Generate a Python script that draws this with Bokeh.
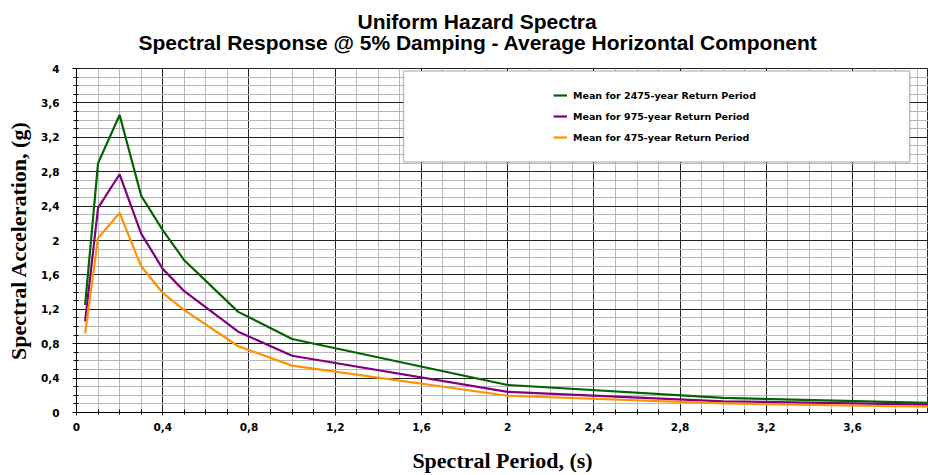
from bokeh.plotting import figure
from bokeh.models import (Range1d, FixedTicker, CustomJSTickFormatter, Legend, LegendItem,
                          BoxAnnotation, Title)
from bokeh.embed import file_html
from bokeh.resources import INLINE

# ---- data ----
periods = [0.04, 0.1, 0.2, 0.3, 0.4, 0.5, 0.75, 1.0, 2.0, 3.0, 4.0]
sa_2475 = [1.25, 2.90, 3.46, 2.52, 2.12, 1.77, 1.17, 0.855, 0.32, 0.17, 0.11]
sa_975 = [1.06, 2.38, 2.77, 2.08, 1.67, 1.41, 0.94, 0.66, 0.24, 0.13, 0.09]
sa_475 = [0.92, 2.03, 2.32, 1.70, 1.39, 1.19, 0.77, 0.545, 0.195, 0.105, 0.065]

series_names = ["Mean for 2475-year Return Period",
                "Mean for 975-year Return Period",
                "Mean for 475-year Return Period"]

title_lines = ["Uniform Hazard Spectra",
               "Spectral Response @ 5% Damping - Average Horizontal Component"]

x_ticks = [0, 0.4, 0.8, 1.2, 1.6, 2, 2.4, 2.8, 3.2, 3.6, 4]
x_tick_labels = ["0", "0,4", "0,8", "1,2", "1,6", "2", "2,4", "2,8", "3,2", "3,6", "4"]
y_ticks = [0, 0.4, 0.8, 1.2, 1.6, 2, 2.4, 2.8, 3.2, 3.6, 4]
y_tick_labels = ["0", "0,4", "0,8", "1,2", "1,6", "2", "2,4", "2,8", "3,2", "3,6", "4"]
minor_ticks = [i / 10 for i in range(41)]

colors = ["#006400", "#800080", "#ff9200"]

p = figure(width=928, height=475, output_backend="svg", toolbar_location=None,
           x_range=Range1d(0, 3.952), y_range=Range1d(0, 4),
           min_border_left=76, min_border_right=0, min_border_top=68, min_border_bottom=63,
           background_fill_color="white", border_fill_color="white")
p.outline_line_color = "#222222"

# two-line chart title (second line added first: it sits next to the plot)
t2 = Title(text=title_lines[1], text_font="Liberation Sans", text_font_size="21px",
           text_font_style="bold", text_color="black", align="left", offset=62, standoff=30)
t1 = Title(text=title_lines[0], text_font="Liberation Sans", text_font_size="21px",
           text_font_style="bold", text_color="black", align="left", offset=281, standoff=-38)
p.add_layout(t2, "above")
p.add_layout(t1, "above")

# axes
def fmt(vals, labels):
    return CustomJSTickFormatter(args=dict(tick_vals=vals, tick_labels=labels), code="""
        const i = tick_vals.findIndex(t => Math.abs(t - tick) < 1e-6);
        return i >= 0 ? tick_labels[i] : "";
    """)

p.xaxis.ticker = FixedTicker(ticks=x_ticks, minor_ticks=minor_ticks)
p.yaxis.ticker = FixedTicker(ticks=y_ticks, minor_ticks=minor_ticks)
p.xaxis.formatter = fmt(x_ticks, x_tick_labels)
p.yaxis.formatter = fmt(y_ticks, y_tick_labels)

for ax in (p.xaxis[0], p.yaxis[0]):
    ax.axis_line_color = "black"
    ax.major_tick_line_color = "black"
    ax.minor_tick_line_color = "black"
    ax.major_label_text_font = "DejaVu Sans"
    ax.major_label_text_font_style = "bold"
    ax.major_label_text_font_size = "10.5px"
    ax.major_label_text_color = "black"
    ax.axis_label_text_font = "Liberation Serif"
    ax.axis_label_text_font_style = "bold"
    ax.axis_label_text_font_size = "22px"
    ax.axis_label_text_color = "black"

p.xaxis.axis_label = "Spectral Period, (s)"
p.yaxis.axis_label = "Spectral Acceleration, (g)"
p.xaxis.major_tick_in = 4
p.xaxis.major_tick_out = 3
p.xaxis.minor_tick_in = 3
p.xaxis.minor_tick_out = 2
p.xaxis.major_label_standoff = 7
p.xaxis.axis_label_standoff = 14
p.yaxis.major_tick_in = 3
p.yaxis.major_tick_out = 4
p.yaxis.minor_tick_in = 2
p.yaxis.minor_tick_out = 3
p.yaxis.major_label_standoff = 13
p.yaxis.axis_label_standoff = 7

# grids
p.xgrid.ticker = FixedTicker(ticks=x_ticks, minor_ticks=minor_ticks)
p.ygrid.ticker = FixedTicker(ticks=y_ticks, minor_ticks=minor_ticks)
for g in (p.xgrid[0], p.ygrid[0]):
    g.grid_line_color = "#222222"
    g.grid_line_width = 1
    g.minor_grid_line_color = "#b8b8b8"
    g.minor_grid_line_width = 1

# lines
renderers = []
for ys, c in zip([sa_2475, sa_975, sa_475], colors):
    r = p.line(periods, ys, line_color=c, line_width=2.2)
    renderers.append(r)

# legend box
box = BoxAnnotation(left=1.517, right=3.865, top=3.972, bottom=2.912,
                    fill_color="white", fill_alpha=1.0,
                    line_color="#333333", line_width=1.5)
p.add_layout(box)

legend = Legend(items=[LegendItem(label=n, renderers=[r]) for n, r in zip(series_names, renderers)],
                location=(477, 265), padding=0, margin=0, spacing=1,
                glyph_width=14, glyph_height=20, label_height=20, label_standoff=6,
                label_text_font="DejaVu Sans", label_text_font_style="bold",
                label_text_font_size="9.5px", label_text_color="black",
                border_line_alpha=0, background_fill_alpha=0)
p.add_layout(legend)

open("out.html", "w").write(file_html(p, INLINE))
